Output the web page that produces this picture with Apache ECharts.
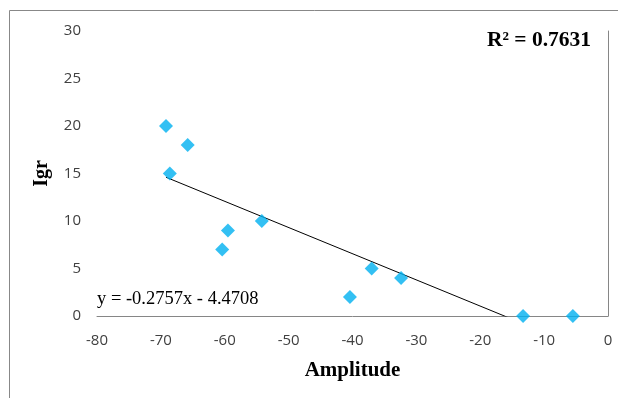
<!DOCTYPE html>
<html><head><meta charset="utf-8">
<script src="https://cdn.jsdelivr.net/npm/echarts@6/dist/echarts.min.js"></script>
<style>html,body{margin:0;padding:0;background:#fff}#c{width:618px;height:398px}</style>
</head><body><div id="c"></div>
<script>
const amplitude = [-69.2, -65.8, -68.6, -60.4, -59.5, -54.2, -40.4, -37.0, -32.4, -13.3, -5.5];
const igr = [20, 18, 15, 7, 9, 10, 2, 5, 4, 0, 0];
const slope = -0.2757, intercept = -4.4708;
const eqText = 'y = -0.2757x - 4.4708';
const r2Text = 'R² = 0.7631';
const xTicks = [-80, -70, -60, -50, -40, -30, -20, -10, 0];
const yTicks = [0, 5, 10, 15, 20, 25, 30];

const points = amplitude.map((a, i) => [a, igr[i]]);
const xmin = Math.min(...amplitude), xmax = Math.max(...amplitude);
const trend = [[xmin, slope * xmin + intercept], [xmax, slope * xmax + intercept]];

const chart = echarts.init(document.getElementById('c'), null, {renderer: 'canvas'});
const tickFont = {fontFamily: 'Open Sans, Liberation Sans, sans-serif', fontSize: 15, color: '#404040'};
chart.setOption({
  animation: false,
  grid: {left: 97, right: 10, top: 31, bottom: 82},
  xAxis: {
    type: 'value', min: xTicks[0], max: xTicks[xTicks.length - 1], interval: 10,
    axisLine: {show: true, onZero: false, lineStyle: {color: '#868686', width: 1}},
    axisTick: {show: false}, splitLine: {show: false},
    axisLabel: Object.assign({margin: 17}, tickFont),
    name: 'Amplitude', nameLocation: 'middle', nameGap: 44,
    nameTextStyle: {fontFamily: 'Liberation Serif, serif', fontWeight: 'bold', fontSize: 21, color: '#000'}
  },
  yAxis: [{
    type: 'value', min: yTicks[0], max: yTicks[yTicks.length - 1], interval: 5,
    axisLine: {show: false}, axisTick: {show: false}, splitLine: {show: false},
    axisLabel: Object.assign({margin: 16}, tickFont),
    name: 'Igr', nameLocation: 'middle', nameGap: 45, nameRotate: 90,
    nameTextStyle: {fontFamily: 'Liberation Serif, serif', fontWeight: 'bold', fontSize: 20, color: '#000'}
  }, {
    type: 'value', min: yTicks[0], max: yTicks[yTicks.length - 1], interval: 5, position: 'right',
    axisLine: {show: true, lineStyle: {color: '#868686', width: 1}},
    axisTick: {show: false}, splitLine: {show: false}, axisLabel: {show: false}
  }],
  graphic: [
    {type: 'rect', shape: {x: 9.5, y: 10.5, width: 800, height: 600}, style: {fill: 'none', stroke: '#888', lineWidth: 1}, z: -1},
    {type: 'text', left: 487, top: 29, style: {text: r2Text, font: 'bold 21.5px "Liberation Serif", serif', fill: '#000'}},
    {type: 'text', left: 97, top: 290, style: {text: eqText, font: '18.5px "Liberation Serif", serif', fill: '#000'}}
  ],
  series: [{
    type: 'line', data: trend, showSymbol: false, clip: true,
    lineStyle: {color: '#000', width: 1}, z: 1
  }, {
    type: 'scatter', data: points, symbol: 'diamond', symbolSize: 14,
    itemStyle: {color: '#00B0F0'}, z: 2
  }]
});
</script></body></html>
